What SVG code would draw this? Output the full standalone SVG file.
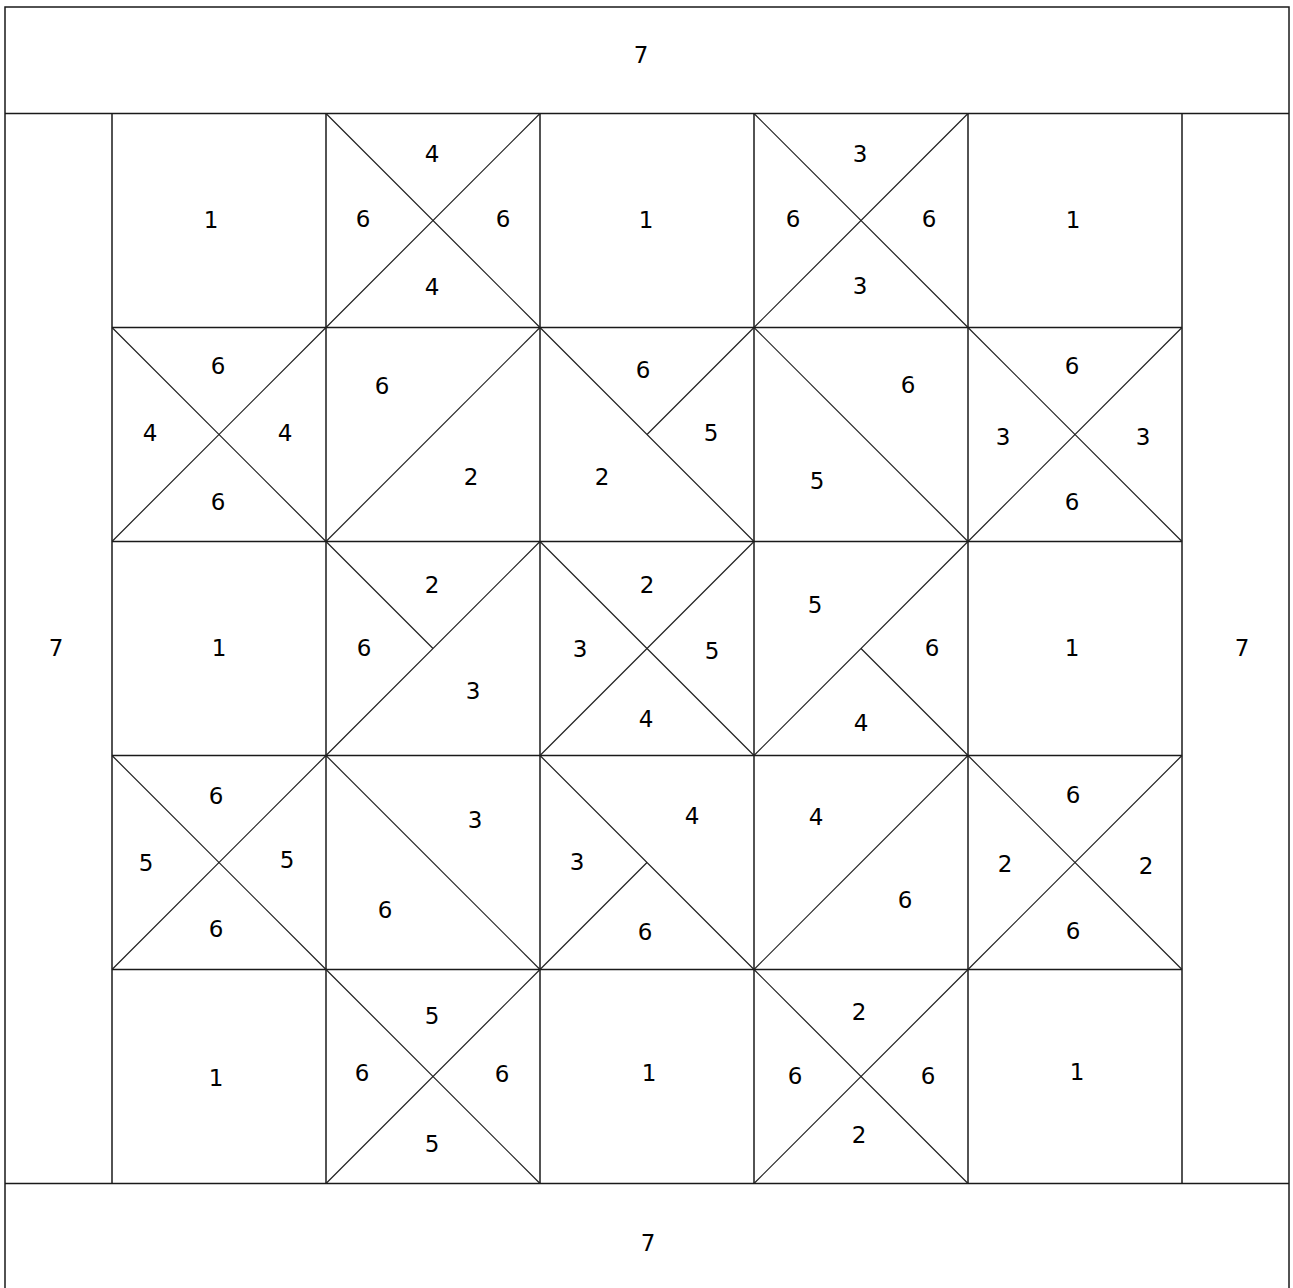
<svg xmlns="http://www.w3.org/2000/svg" width="1293" height="1288" viewBox="0 0 1293 1288">
<style>
.bg{fill:#fff}
.g{fill:none;stroke:#1a1a1a;stroke-width:1.5}
.d{fill:none;stroke:#222;stroke-width:1.2}
text{font-family:"DejaVu Sans",sans-serif;font-size:23px;fill:#000;text-anchor:middle;dominant-baseline:central}
</style>
<rect class="bg" x="0" y="0" width="1293" height="1288"/>
<g id="border">
<rect class="g" x="5" y="7" width="1284" height="1282"/>
<line class="g" x1="5" y1="113.5" x2="1289" y2="113.5"/>
<line class="g" x1="5" y1="1183.5" x2="1289" y2="1183.5"/>
<line class="g" x1="112" y1="113.5" x2="112" y2="1183.5"/>
<line class="g" x1="1182" y1="113.5" x2="1182" y2="1183.5"/>
<text x="641" y="55">7</text>
<text x="648" y="1243">7</text>
<text x="56" y="648">7</text>
<text x="1242" y="648">7</text>
</g>
<g id="grid">
<line class="g" x1="112" y1="327.5" x2="1182" y2="327.5"/>
<line class="g" x1="112" y1="541.5" x2="1182" y2="541.5"/>
<line class="g" x1="112" y1="755.5" x2="1182" y2="755.5"/>
<line class="g" x1="112" y1="969.5" x2="1182" y2="969.5"/>
<line class="g" x1="326" y1="113.5" x2="326" y2="1183.5"/>
<line class="g" x1="540" y1="113.5" x2="540" y2="1183.5"/>
<line class="g" x1="754" y1="113.5" x2="754" y2="1183.5"/>
<line class="g" x1="968" y1="113.5" x2="968" y2="1183.5"/>
</g>
<g id="seams">
<path class="d" d="M326 113.5 L540 327.5 M540 113.5 L326 327.5"/>
<path class="d" d="M754 113.5 L968 327.5 M968 113.5 L754 327.5"/>
<path class="d" d="M112 327.5 L326 541.5 M326 327.5 L112 541.5"/>
<path class="d" d="M326 541.5 L540 327.5"/>
<path class="d" d="M540 327.5 L754 541.5 M754 327.5 L647 434.5"/>
<path class="d" d="M754 327.5 L968 541.5"/>
<path class="d" d="M968 327.5 L1182 541.5 M1182 327.5 L968 541.5"/>
<path class="d" d="M326 755.5 L540 541.5 M326 541.5 L433 648.5"/>
<path class="d" d="M540 541.5 L754 755.5 M754 541.5 L540 755.5"/>
<path class="d" d="M754 755.5 L968 541.5 M861 648.5 L968 755.5"/>
<path class="d" d="M112 755.5 L326 969.5 M326 755.5 L112 969.5"/>
<path class="d" d="M326 755.5 L540 969.5"/>
<path class="d" d="M540 755.5 L754 969.5 M647 862.5 L540 969.5"/>
<path class="d" d="M754 969.5 L968 755.5"/>
<path class="d" d="M968 755.5 L1182 969.5 M1182 755.5 L968 969.5"/>
<path class="d" d="M326 969.5 L540 1183.5 M540 969.5 L326 1183.5"/>
<path class="d" d="M754 969.5 L968 1183.5 M968 969.5 L754 1183.5"/>
</g>
<g id="r0c0"><text x="211" y="220">1</text></g>
<g id="r0c1"><text x="432" y="154">4</text><text x="363" y="219">6</text><text x="503" y="219">6</text><text x="432" y="287">4</text></g>
<g id="r0c2"><text x="646" y="220">1</text></g>
<g id="r0c3"><text x="860" y="154">3</text><text x="793" y="219">6</text><text x="929" y="219">6</text><text x="860" y="286">3</text></g>
<g id="r0c4"><text x="1073" y="220">1</text></g>
<g id="r1c0"><text x="218" y="366">6</text><text x="150" y="433">4</text><text x="285" y="433">4</text><text x="218" y="502">6</text></g>
<g id="r1c1"><text x="382" y="386">6</text><text x="471" y="477">2</text></g>
<g id="r1c2"><text x="643" y="370">6</text><text x="711" y="433">5</text><text x="602" y="477">2</text></g>
<g id="r1c3"><text x="908" y="385">6</text><text x="817" y="481">5</text></g>
<g id="r1c4"><text x="1072" y="366">6</text><text x="1003" y="437">3</text><text x="1143" y="437">3</text><text x="1072" y="502">6</text></g>
<g id="r2c0"><text x="219" y="648">1</text></g>
<g id="r2c1"><text x="432" y="585">2</text><text x="364" y="648">6</text><text x="473" y="691">3</text></g>
<g id="r2c2"><text x="647" y="585">2</text><text x="580" y="649">3</text><text x="712" y="651">5</text><text x="646" y="719">4</text></g>
<g id="r2c3"><text x="815" y="605">5</text><text x="932" y="648">6</text><text x="861" y="723">4</text></g>
<g id="r2c4"><text x="1072" y="648">1</text></g>
<g id="r3c0"><text x="216" y="796">6</text><text x="146" y="863">5</text><text x="287" y="860">5</text><text x="216" y="929">6</text></g>
<g id="r3c1"><text x="475" y="820">3</text><text x="385" y="910">6</text></g>
<g id="r3c2"><text x="692" y="816">4</text><text x="577" y="862">3</text><text x="645" y="932">6</text></g>
<g id="r3c3"><text x="816" y="817">4</text><text x="905" y="900">6</text></g>
<g id="r3c4"><text x="1073" y="795">6</text><text x="1005" y="864">2</text><text x="1146" y="866">2</text><text x="1073" y="931">6</text></g>
<g id="r4c0"><text x="216" y="1078">1</text></g>
<g id="r4c1"><text x="432" y="1016">5</text><text x="362" y="1073">6</text><text x="502" y="1074">6</text><text x="432" y="1144">5</text></g>
<g id="r4c2"><text x="649" y="1073">1</text></g>
<g id="r4c3"><text x="859" y="1012">2</text><text x="795" y="1076">6</text><text x="928" y="1076">6</text><text x="859" y="1135">2</text></g>
<g id="r4c4"><text x="1077" y="1072">1</text></g>
</svg>
